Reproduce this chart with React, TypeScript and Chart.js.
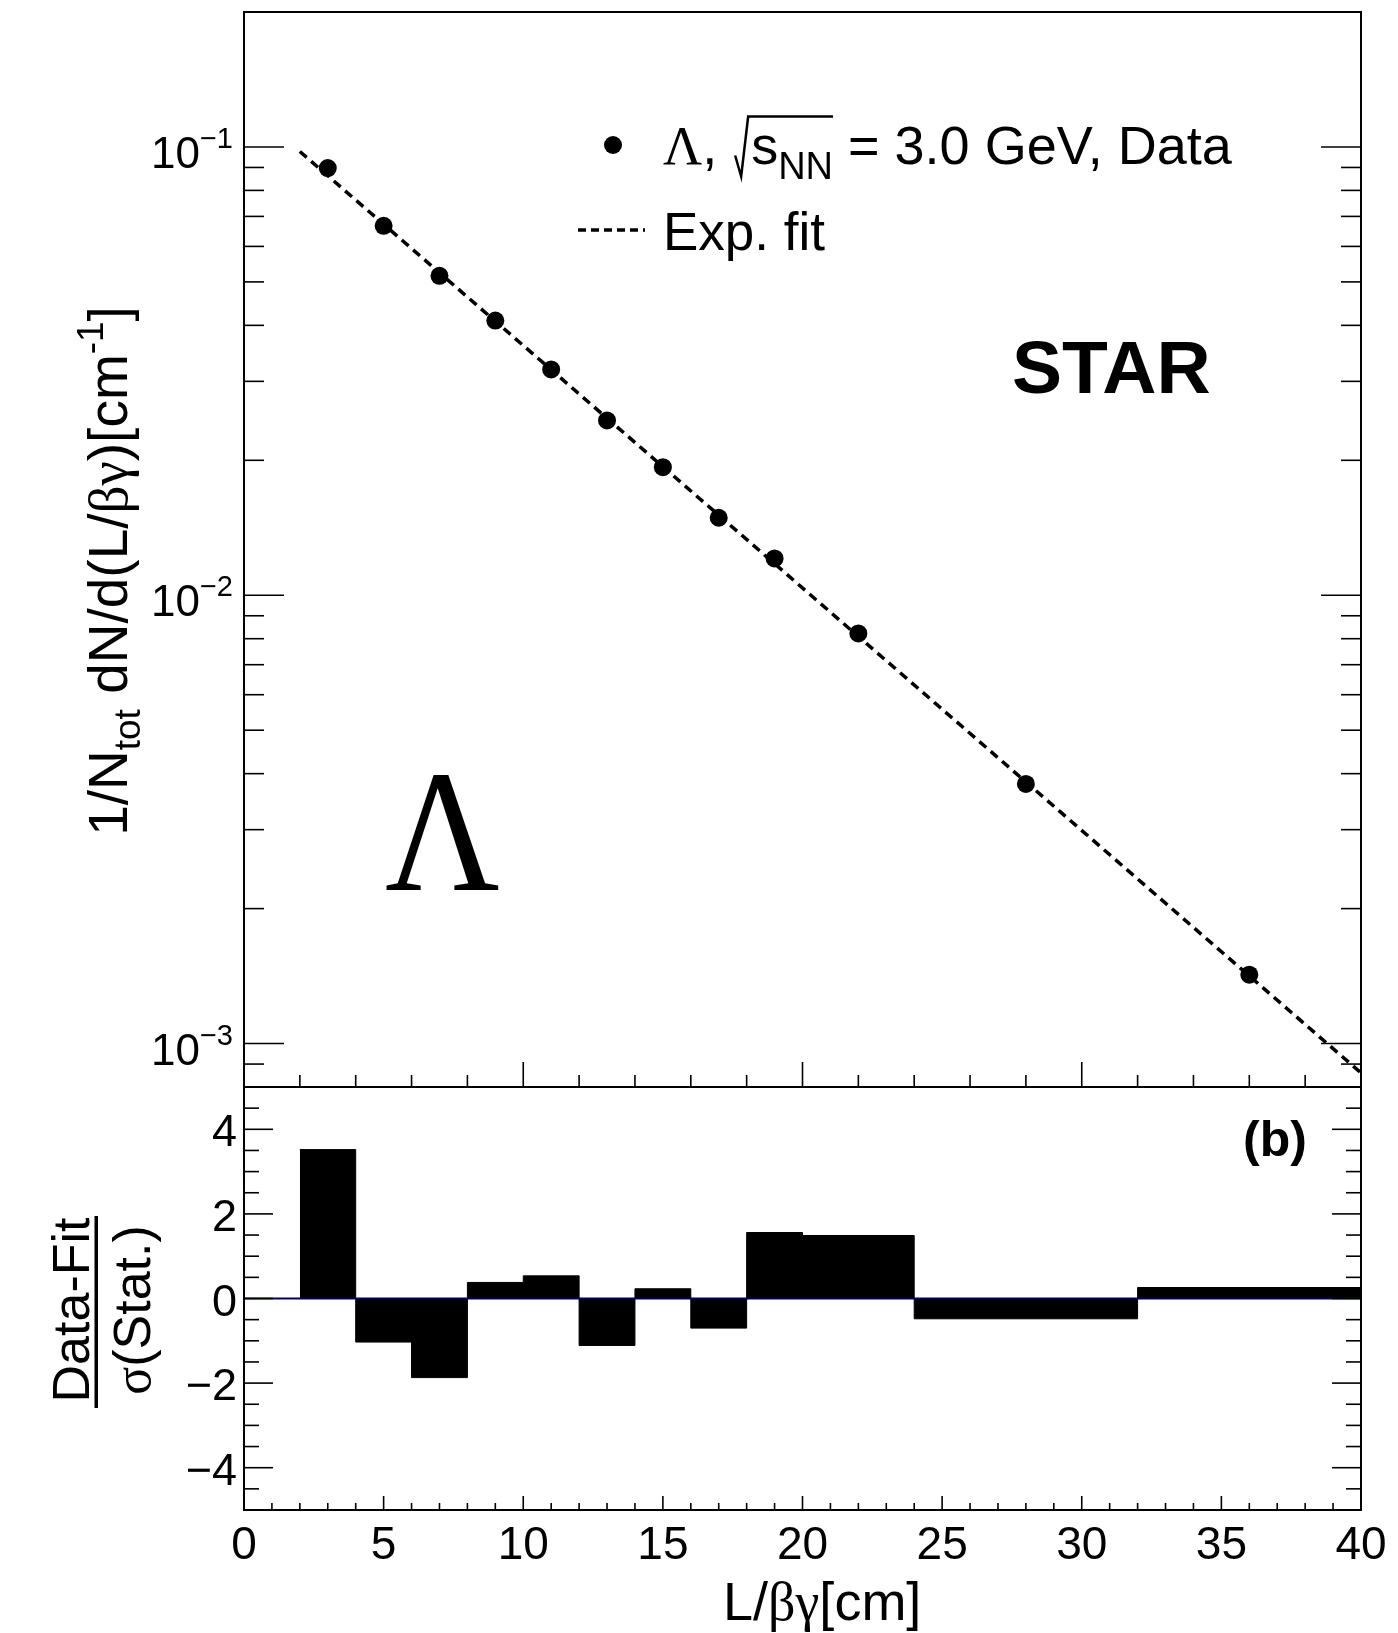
import React, { useEffect, useRef } from "react";
import { Chart, registerables } from "chart.js";

Chart.register(...registerables);

// ---------- data ----------
const decayLength = [3, 5, 7, 9, 11, 13, 15, 17, 19, 22, 28, 36];
const lambdaYield = [0.0897, 0.0667, 0.0516, 0.041, 0.0319, 0.02454, 0.01931, 0.01489, 0.01208, 0.00822, 0.003795, 0.001424];
const fitLength = [2, 40];
const fitYield = [0.0977, 0.00086];
const binEdges = [2, 4, 6, 8, 10, 12, 14, 16, 18, 20, 24, 32, 40];
const residuals = [3.52, -1.03, -1.87, 0.38, 0.535, -1.11, 0.23, -0.7, 1.56, 1.49, -0.48, 0.26];
const logTickDecades = [-1, -2, -3];
const ratioTicks = [4, 2, 0, -2, -4];
const xTickLabels = [0, 5, 10, 15, 20, 25, 30, 35, 40];

// ---------- layout ----------
const W = 1398;
const H = 1633;
const SPLIT = 1087;
const SANS = '"Liberation Sans", Arial, Helvetica, sans-serif';
const SERIF = '"Liberation Serif", "Times New Roman", serif';

type Seg = { t: string; font: string; dy?: number };

function segsWidth(ctx: CanvasRenderingContext2D, segs: Seg[]) {
  let w = 0;
  for (const s of segs) {
    ctx.font = s.font;
    w += ctx.measureText(s.t).width;
  }
  return w;
}
function drawSegs(ctx: CanvasRenderingContext2D, segs: Seg[], x: number, y: number) {
  let cx = x;
  for (const s of segs) {
    ctx.font = s.font;
    ctx.fillText(s.t, cx, y + (s.dy || 0));
    cx += ctx.measureText(s.t).width;
  }
  return cx;
}
function line(ctx: CanvasRenderingContext2D, x1: number, y1: number, x2: number, y2: number) {
  ctx.beginPath();
  ctx.moveTo(x1, y1);
  ctx.lineTo(x2, y2);
  ctx.stroke();
}

const topDecor = {
  id: "topDecor",
  afterDraw(chart: any) {
    const ctx: CanvasRenderingContext2D = chart.ctx;
    const { left, right, top, bottom } = chart.chartArea;
    const xs = chart.scales.x;
    const ys = chart.scales.y;
    ctx.save();
    ctx.strokeStyle = "#000";
    ctx.fillStyle = "#000";
    ctx.setLineDash([]);
    ctx.lineWidth = 2;
    ctx.strokeRect(left, top, right - left, bottom - top);

    // y ticks (log)
    ctx.lineWidth = 1.6;
    for (let d = -4; d <= 0; d++) {
      for (let k = 1; k <= 9; k++) {
        const v = k * Math.pow(10, d);
        if (v < ys.min * 0.999 || v > ys.max * 1.001) continue;
        const py = ys.getPixelForValue(v);
        const len = k === 1 ? 40 : 20;
        line(ctx, left, py, left + len, py);
        line(ctx, right, py, right - len, py);
      }
    }
    // x ticks on bottom edge of top pad
    for (let v = 0; v <= 40; v += 2) {
      const px = xs.getPixelForValue(v);
      const len = v % 10 === 0 ? 25 : 12;
      line(ctx, px, bottom, px, bottom - len);
    }

    // y tick labels 10^n
    ctx.textAlign = "left";
    ctx.textBaseline = "alphabetic";
    for (const d of logTickDecades) {
      const py = ys.getPixelForValue(Math.pow(10, d));
      const segs: Seg[] = [
        { t: "10", font: `44px ${SANS}`, dy: 21 },
        { t: "\u2212" + Math.abs(d), font: `29px ${SANS}`, dy: 1 },
      ];
      const w = segsWidth(ctx, segs);
      drawSegs(ctx, segs, 233 - w, py);
    }

    // y title
    ctx.save();
    ctx.translate(127, 571);
    ctx.rotate(-Math.PI / 2);
    const ttl: Seg[] = [
      { t: "1/N", font: `55px ${SANS}` },
      { t: "tot", font: `37px ${SANS}`, dy: 13 },
      { t: " dN/d(L/", font: `55px ${SANS}` },
      { t: "\u03b2\u03b3", font: `55px ${SERIF}` },
      { t: ")[cm", font: `55px ${SANS}` },
      { t: "-1", font: `37px ${SANS}`, dy: -24 },
      { t: "]", font: `55px ${SANS}` },
    ];
    const tw = segsWidth(ctx, ttl);
    drawSegs(ctx, ttl, -tw / 2, 0);
    ctx.restore();

    // legend
    const mx = 613;
    ctx.beginPath();
    ctx.arc(mx, 145, 9, 0, Math.PI * 2);
    ctx.fill();
    const by = 163.5;
    let cx = 663;
    cx = drawSegs(ctx, [{ t: "\u039b", font: `54px ${SERIF}` }, { t: ", ", font: `54px ${SANS}` }], cx, by);
    const sx = cx + 3;
    const sEnd = drawSegs(
      ctx,
      [
        { t: "s", font: `54px ${SANS}` },
        { t: "NN", font: `38px ${SANS}`, dy: 15 },
      ],
      sx + 16,
      by
    );
    ctx.lineWidth = 2.5;
    ctx.beginPath();
    ctx.moveTo(sx, by - 8);
    ctx.lineTo(sx + 6, by + 13);
    ctx.lineTo(sx + 13, by - 47);
    ctx.lineTo(sEnd, by - 47);
    ctx.stroke();
    drawSegs(ctx, [{ t: " = 3.0 GeV, Data", font: `54px ${SANS}` }], sEnd, by);

    ctx.lineWidth = 3.5;
    ctx.setLineDash([8, 5]);
    line(ctx, 578, 230, 645, 230);
    ctx.setLineDash([]);
    ctx.font = `53px ${SANS}`;
    ctx.fillText("Exp. fit", 663, 250);

    // STAR
    ctx.font = `bold 75px ${SANS}`;
    ctx.fillText("STAR", 1012, 393);

    // big Lambda
    ctx.save();
    ctx.translate(385, 890);
    ctx.scale(0.91, 1);
    ctx.font = `174px ${SERIF}`;
    ctx.fillText("\u039b", 0, 0);
    ctx.restore();

    ctx.restore();
  },
};

const botDecor = {
  id: "botDecor",
  afterDraw(chart: any) {
    const ctx: CanvasRenderingContext2D = chart.ctx;
    const { left, right, top, bottom } = chart.chartArea;
    const xs = chart.scales.x;
    const ys = chart.scales.y;
    ctx.save();
    ctx.strokeStyle = "#000";
    ctx.fillStyle = "#000";
    ctx.setLineDash([]);
    ctx.lineWidth = 2;
    ctx.strokeRect(left, top, right - left, bottom - top);

    ctx.lineWidth = 1.6;
    for (let v = -5; v <= 5.001; v += 0.5) {
      const py = ys.getPixelForValue(v);
      const major = Math.abs(v % 2) < 1e-6;
      const len = major ? 29 : 15;
      line(ctx, left, py, left + len, py);
      line(ctx, right, py, right - len, py);
    }
    for (let v = 0; v <= 40; v += 1) {
      const px = xs.getPixelForValue(v);
      const len = v % 5 === 0 ? 14 : 7;
      line(ctx, px, bottom, px, bottom - len);
    }

    // y labels
    ctx.font = `45px ${SANS}`;
    ctx.textAlign = "right";
    for (const v of ratioTicks) {
      const py = ys.getPixelForValue(v);
      ctx.fillText(v < 0 ? "\u2212" + Math.abs(v) : String(v), 237, py + 17);
    }
    // x labels
    ctx.font = `46px ${SANS}`;
    ctx.textAlign = "center";
    for (const v of xTickLabels) {
      const px = xs.getPixelForValue(v);
      ctx.fillText(String(v), px, 1559 - SPLIT);
    }
    // x title
    ctx.textAlign = "left";
    drawSegs(
      ctx,
      [
        { t: "L/", font: `54px ${SANS}` },
        { t: "\u03b2\u03b3", font: `54px ${SERIF}` },
        { t: "[cm]", font: `54px ${SANS}` },
      ],
      723,
      1620 - SPLIT
    );

    // (b)
    ctx.font = `bold 50px ${SANS}`;
    ctx.fillText("(b)", 1243, 1156 - SPLIT);

    // y title fraction
    const cy = 1310 - SPLIT;
    ctx.save();
    ctx.translate(89, cy);
    ctx.rotate(-Math.PI / 2);
    const num: Seg[] = [{ t: "Data-Fit", font: `52px ${SANS}` }];
    drawSegs(ctx, num, -segsWidth(ctx, num) / 2, 0);
    ctx.restore();
    ctx.save();
    ctx.translate(150, cy);
    ctx.rotate(-Math.PI / 2);
    const den: Seg[] = [
      { t: "\u03c3", font: `52px ${SERIF}` },
      { t: "(Stat.)", font: `52px ${SANS}` },
    ];
    drawSegs(ctx, den, -segsWidth(ctx, den) / 2, 0);
    ctx.restore();
    ctx.fillRect(94.5, 1216 - SPLIT, 3.5, 192);

    ctx.restore();
  },
};

export default function App() {
  const topRef = useRef<HTMLCanvasElement | null>(null);
  const botRef = useRef<HTMLCanvasElement | null>(null);

  useEffect(() => {
    if (!topRef.current || !botRef.current) return;
    const points = decayLength.map((x, i) => ({ x, y: lambdaYield[i] }));
    const fit = fitLength.map((x, i) => ({ x, y: fitYield[i] }));
    const common: any = {
      responsive: false,
      maintainAspectRatio: false,
      devicePixelRatio: 1,
      animation: false,
      events: [],
      plugins: { legend: { display: false }, tooltip: { enabled: false }, title: { display: false } },
    };
    const top = new Chart(topRef.current, {
      type: "scatter",
      data: {
        datasets: [
          {
            label: "data",
            data: points,
            pointRadius: 9,
            pointBackgroundColor: "#000",
            pointBorderWidth: 0,
            showLine: false,
            order: 0,
          } as any,
          {
            type: "line",
            label: "fit",
            data: fit,
            borderColor: "#000",
            borderWidth: 3.5,
            borderDash: [9, 6],
            pointRadius: 0,
            fill: false,
            showLine: true,
            order: 1,
          } as any,
        ],
      },
      options: {
        ...common,
        layout: { autoPadding: false, padding: { left: 244, right: W - 1361, top: 12, bottom: 0 } },
        scales: {
          x: { type: "linear", min: 0, max: 40, display: false },
          y: { type: "logarithmic", min: 0.0008, max: 0.2, display: false },
        },
      },
      plugins: [topDecor],
    });

    const hist = binEdges.map((x, i) => ({ x, y: residuals[Math.min(i, residuals.length - 1)] }));
    const zero = [0, 40].map((x) => ({ x, y: 0 }));
    const bot = new Chart(botRef.current, {
      type: "line",
      data: {
        datasets: [
          {
            label: "residual",
            data: hist,
            stepped: true,
            fill: "origin",
            backgroundColor: "#000",
            borderColor: "#000",
            borderWidth: 1,
            pointRadius: 0,
            order: 1,
          } as any,
          {
            label: "zero",
            data: zero,
            borderColor: "#00005a",
            borderWidth: 2,
            pointRadius: 0,
            fill: false,
            order: 0,
          } as any,
        ],
      },
      options: {
        ...common,
        layout: { autoPadding: false, padding: { left: 244, right: W - 1361, top: 0, bottom: H - 1510 } },
        scales: {
          x: { type: "linear", min: 0, max: 40, display: false },
          y: { type: "linear", min: -5, max: 5, display: false },
        },
      },
      plugins: [botDecor],
    });

    return () => {
      top.destroy();
      bot.destroy();
    };
  }, []);

  return (
    <div style={{ position: "absolute", left: 0, top: 0, width: W, height: H, background: "#fff" }}>
      <canvas
        ref={topRef}
        width={W}
        height={SPLIT}
        style={{ position: "absolute", left: 0, top: 0, width: W, height: SPLIT, display: "block" }}
      />
      <canvas
        ref={botRef}
        width={W}
        height={H - SPLIT}
        style={{ position: "absolute", left: 0, top: SPLIT, width: W, height: H - SPLIT, display: "block" }}
      />
    </div>
  );
}
